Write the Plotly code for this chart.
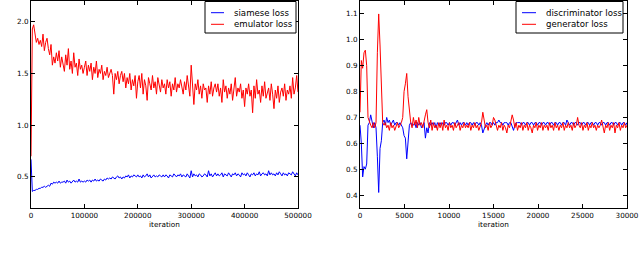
import plotly.graph_objects as go

# ---------------- left panel data (iteration step 2500) ----------------
emulator_loss = [
    0.70, 1.93, 1.97, 1.86, 1.80, 1.84, 1.78, 1.82, 1.76, 1.88, 1.72, 1.80, 1.84, 1.74, 1.68, 1.78, 1.58, 1.66, 1.60, 1.70,
    1.62, 1.72, 1.56, 1.66, 1.60, 1.52, 1.68, 1.58, 1.74, 1.54, 1.62, 1.50, 1.70, 1.56, 1.60, 1.48, 1.64, 1.54, 1.58, 1.50,
    1.56, 1.62, 1.48, 1.58, 1.52, 1.60, 1.44, 1.56, 1.50, 1.62, 1.46, 1.54, 1.50, 1.58, 1.44, 1.52, 1.48, 1.56, 1.46, 1.50,
    1.54, 1.48, 1.30, 1.50, 1.44, 1.52, 1.40, 1.48, 1.52, 1.42, 1.50, 1.36, 1.46, 1.40, 1.50, 1.34, 1.44, 1.38, 1.48, 1.26,
    1.42, 1.48, 1.36, 1.50, 1.30, 1.44, 1.38, 1.24, 1.46, 1.40, 1.34, 1.48, 1.36, 1.42, 1.30, 1.46, 1.38, 1.32, 1.44, 1.36,
    1.40, 1.30, 1.44, 1.36, 1.42, 1.28, 1.40, 1.34, 1.46, 1.32, 1.40, 1.36, 1.44, 1.38, 1.30, 1.42, 1.34, 1.48, 1.36, 1.28,
    1.58, 1.32, 1.20, 1.40, 1.34, 1.44, 1.30, 1.38, 1.26, 1.40, 1.34, 1.36, 1.22, 1.38, 1.30, 1.42, 1.28, 1.36, 1.40, 1.32,
    1.40, 1.28, 1.36, 1.22, 1.44, 1.32, 1.38, 1.26, 1.36, 1.30, 1.40, 1.24, 1.34, 1.46, 1.28, 1.36, 1.32, 1.40, 1.26, 1.34,
    1.18, 1.36, 1.30, 1.40, 1.28, 1.34, 1.12, 1.38, 1.26, 1.44, 1.30, 1.34, 1.22, 1.38, 1.28, 1.42, 1.26, 1.32, 1.36, 1.24,
    1.40, 1.30, 1.16, 1.34, 1.26, 1.38, 1.22, 1.32, 1.36, 1.28, 1.40, 1.24, 1.34, 1.30, 1.38, 1.26, 1.46, 1.30, 1.36, 1.48,
    1.32,
]
siamese_loss = [
    0.67, 0.36, 0.37, 0.37, 0.38, 0.38, 0.39, 0.39, 0.40, 0.40, 0.41, 0.40, 0.41, 0.42, 0.41, 0.44, 0.43, 0.45, 0.44, 0.45,
    0.44, 0.46, 0.44, 0.45, 0.45, 0.46, 0.44, 0.47, 0.45, 0.46, 0.44, 0.46, 0.47, 0.45, 0.46, 0.45, 0.48, 0.45, 0.46, 0.45,
    0.46, 0.45, 0.47, 0.46, 0.47, 0.45, 0.47, 0.46, 0.48, 0.46, 0.47, 0.46, 0.48, 0.47, 0.46, 0.48, 0.47, 0.49, 0.48, 0.49,
    0.48, 0.50, 0.49, 0.48, 0.50, 0.51, 0.49, 0.50, 0.48, 0.50, 0.49, 0.51, 0.50, 0.52, 0.49, 0.51, 0.50, 0.52, 0.51, 0.50,
    0.52, 0.50, 0.51, 0.49, 0.52, 0.50, 0.51, 0.53, 0.50, 0.52, 0.49, 0.51, 0.52, 0.50, 0.51, 0.50, 0.52, 0.51, 0.50, 0.52,
    0.50, 0.52, 0.51, 0.49, 0.52, 0.51, 0.50, 0.53, 0.51, 0.50, 0.52, 0.51, 0.53, 0.50, 0.52, 0.51, 0.50, 0.53, 0.51, 0.49,
    0.56, 0.50, 0.53, 0.51, 0.52, 0.50, 0.53, 0.52, 0.50, 0.51, 0.53, 0.52, 0.50, 0.56, 0.51, 0.53, 0.50, 0.52, 0.54, 0.51,
    0.53, 0.51, 0.52, 0.54, 0.50, 0.53, 0.52, 0.51, 0.54, 0.52, 0.50, 0.53, 0.52, 0.54, 0.51, 0.53, 0.52, 0.50, 0.54, 0.52,
    0.53, 0.51, 0.54, 0.52, 0.50, 0.53, 0.52, 0.54, 0.51, 0.53, 0.52, 0.55, 0.51, 0.53, 0.54, 0.52, 0.53, 0.51, 0.56, 0.52,
    0.54, 0.52, 0.53, 0.51, 0.54, 0.52, 0.55, 0.53, 0.51, 0.54, 0.52, 0.53, 0.51, 0.54, 0.53, 0.52, 0.55, 0.53, 0.51, 0.54,
    0.52,
]
left_step = 2500
left_iter = [i * left_step for i in range(len(emulator_loss))]

# ---------------- right panel data (iteration step 150) ----------------
discriminator_loss = [
    0.67, 0.60, 0.47, 0.51, 0.50, 0.52, 0.67, 0.68, 0.71, 0.68, 0.66, 0.68, 0.66, 0.55, 0.41, 0.58, 0.61, 0.68, 0.69, 0.67,
    0.70, 0.68, 0.69, 0.67, 0.68, 0.69, 0.67, 0.68, 0.68, 0.67, 0.68, 0.67, 0.66, 0.63, 0.62, 0.54, 0.63, 0.67, 0.68, 0.67,
    0.67, 0.68, 0.66, 0.68, 0.67, 0.68, 0.66, 0.67, 0.68, 0.62, 0.66, 0.64, 0.68, 0.67, 0.68, 0.67, 0.68, 0.66, 0.68, 0.67,
    0.68, 0.67, 0.68, 0.67, 0.68, 0.68, 0.67, 0.68, 0.67, 0.68, 0.68, 0.67, 0.68, 0.69, 0.67, 0.68, 0.67, 0.68, 0.68, 0.67,
    0.68, 0.67, 0.68, 0.68, 0.67, 0.68, 0.67, 0.68, 0.68, 0.67, 0.68, 0.67, 0.64, 0.66, 0.67, 0.68, 0.67, 0.68, 0.68, 0.67,
    0.68, 0.67, 0.68, 0.68, 0.69, 0.68, 0.68, 0.67, 0.68, 0.68, 0.68, 0.67, 0.68, 0.68, 0.66, 0.65, 0.67, 0.68, 0.68, 0.68,
    0.68, 0.67, 0.68, 0.68, 0.67, 0.68, 0.68, 0.67, 0.68, 0.68, 0.67, 0.68, 0.68, 0.67, 0.68, 0.68, 0.67, 0.68, 0.68, 0.67,
    0.68, 0.68, 0.67, 0.68, 0.68, 0.67, 0.68, 0.68, 0.67, 0.68, 0.68, 0.67, 0.68, 0.68, 0.67, 0.69, 0.68, 0.67, 0.68, 0.68,
    0.67, 0.68, 0.68, 0.67, 0.68, 0.68, 0.67, 0.68, 0.68, 0.67, 0.68, 0.68, 0.67, 0.68, 0.68, 0.67, 0.68, 0.68, 0.67, 0.68,
    0.68, 0.67, 0.68, 0.68, 0.67, 0.68, 0.68, 0.67, 0.68, 0.68, 0.67, 0.68, 0.68, 0.67, 0.68, 0.68, 0.67, 0.68, 0.68, 0.67,
    0.68,
]
generator_loss = [
    0.72, 0.92, 0.89, 0.95, 0.96, 0.90, 0.70, 0.68, 0.67, 0.66, 0.68, 0.66, 0.68, 0.95, 1.10, 0.98, 0.85, 0.68, 0.67, 0.68,
    0.66, 0.67, 0.65, 0.68, 0.66, 0.67, 0.65, 0.67, 0.68, 0.66, 0.67, 0.68, 0.70, 0.80, 0.83, 0.87, 0.78, 0.72, 0.68, 0.66,
    0.70, 0.67, 0.69, 0.66, 0.70, 0.67, 0.68, 0.66, 0.69, 0.71, 0.73, 0.68, 0.66, 0.69, 0.65, 0.68, 0.66, 0.67, 0.65, 0.68,
    0.66, 0.68, 0.65, 0.69, 0.66, 0.67, 0.65, 0.68, 0.66, 0.67, 0.65, 0.68, 0.66, 0.67, 0.68, 0.65, 0.67, 0.66, 0.68, 0.66,
    0.67, 0.66, 0.68, 0.65, 0.67, 0.66, 0.68, 0.66, 0.67, 0.65, 0.67, 0.68, 0.72, 0.69, 0.66, 0.67, 0.65, 0.68, 0.66, 0.67,
    0.70, 0.69, 0.67, 0.65, 0.67, 0.66, 0.68, 0.65, 0.67, 0.66, 0.64, 0.67, 0.66, 0.68, 0.71, 0.69, 0.66, 0.68, 0.65, 0.67,
    0.66, 0.68, 0.65, 0.67, 0.66, 0.68, 0.65, 0.67, 0.66, 0.64, 0.67, 0.66, 0.68, 0.65, 0.67, 0.66, 0.68, 0.65, 0.67, 0.66,
    0.67, 0.65, 0.68, 0.66, 0.67, 0.65, 0.68, 0.66, 0.67, 0.65, 0.67, 0.66, 0.68, 0.65, 0.67, 0.66, 0.68, 0.66, 0.67, 0.65,
    0.68, 0.66, 0.67, 0.70, 0.67, 0.66, 0.68, 0.65, 0.67, 0.66, 0.68, 0.65, 0.67, 0.66, 0.68, 0.66, 0.67, 0.65, 0.67, 0.66,
    0.67, 0.69, 0.66, 0.64, 0.67, 0.66, 0.68, 0.65, 0.67, 0.66, 0.68, 0.64, 0.67, 0.66, 0.68, 0.65, 0.67, 0.66, 0.68, 0.66,
    0.67,
]
right_step = 150
right_iter = [i * right_step for i in range(len(generator_loss))]

left_xticks = [0, 100000, 200000, 300000, 400000, 500000]
left_yticks = [0.5, 1.0, 1.5, 2.0]
right_xticks = [0, 5000, 10000, 15000, 20000, 25000, 30000]
right_yticks = [0.4, 0.5, 0.6, 0.7, 0.8, 0.9, 1.0, 1.1]

left_names = ["siamese loss", "emulator loss"]
right_names = ["discriminator loss", "generator loss"]
BLUE, RED = "#0000ff", "#ff0000"

FONT = "DejaVu Sans"
W, H = 640, 259
T, B = 1, 51
PLOT_H = H - T - B


def xp(px):
    return px / W


def yp(py):
    return (H - B - py) / PLOT_H


fig = go.Figure()
fig.add_trace(go.Scatter(x=left_iter, y=siamese_loss, mode="lines", name=left_names[0],
                         line=dict(color=BLUE, width=1), xaxis="x", yaxis="y"))
fig.add_trace(go.Scatter(x=left_iter, y=emulator_loss, mode="lines", name=left_names[1],
                         line=dict(color=RED, width=1), xaxis="x", yaxis="y"))
fig.add_trace(go.Scatter(x=right_iter, y=discriminator_loss, mode="lines", name=right_names[0],
                         line=dict(color=BLUE, width=1), xaxis="x2", yaxis="y2"))
fig.add_trace(go.Scatter(x=right_iter, y=generator_loss, mode="lines", name=right_names[1],
                         line=dict(color=RED, width=1), xaxis="x2", yaxis="y2"))

axis_common = dict(showline=True, linecolor="black", linewidth=1, mirror="ticks", ticks="inside",
                   ticklen=4, tickcolor="black", showgrid=False, zeroline=False, automargin=False,
                   tickfont=dict(family=FONT, size=7.2, color="black"))

# matplotlib-style legend boxes (box, short line samples, labels)
shapes, annotations = [], []
legend_specs = [
    # box (x0, x1, y0, y1), sample (x0, x1), text x, names
    ((205, 296, 1.5, 33), (211, 224), 232, left_names),
    ((516, 623, 1.5, 33), (522, 536), 544, right_names),
]
rows_y = [12.7, 24.3]
for (bx0, bx1, by0, by1), (sx0, sx1), tx, names in legend_specs:
    shapes.append(dict(type="rect", xref="paper", yref="paper", x0=xp(bx0), x1=xp(bx1),
                       y0=yp(by1), y1=yp(by0), line=dict(color="black", width=1),
                       fillcolor="white", layer="above"))
    for name, color, ry in zip(names, [BLUE, RED], rows_y):
        shapes.append(dict(type="line", xref="paper", yref="paper", x0=xp(sx0), x1=xp(sx1),
                           y0=yp(ry), y1=yp(ry), line=dict(color=color, width=1), layer="above"))
        annotations.append(dict(text=name, xref="paper", yref="paper", x=xp(tx), y=yp(ry),
                                xanchor="left", yanchor="middle", showarrow=False,
                                font=dict(family=FONT, size=8.6, color="black")))

fig.update_layout(
    width=W, height=H,
    margin=dict(l=0, r=0, t=T, b=B, pad=0, autoexpand=False),
    paper_bgcolor="white", plot_bgcolor="white",
    showlegend=False,
    font=dict(family=FONT, size=7.2, color="black"),
    xaxis=dict(domain=[xp(31), xp(298)], range=[0, 500000], tickvals=left_xticks,
               tickformat="d", anchor="y",
               title=dict(text="iteration", standoff=2, font=dict(family=FONT, size=7.3)), **axis_common),
    yaxis=dict(domain=[0, 1], range=[0.2, 2.2], tickvals=left_yticks, tickformat=".1f",
               anchor="x", **axis_common),
    xaxis2=dict(domain=[xp(360), xp(627)], range=[0, 30000], tickvals=right_xticks,
                tickformat="d", anchor="y2",
                title=dict(text="iteration", standoff=2, font=dict(family=FONT, size=7.3)), **axis_common),
    yaxis2=dict(domain=[0, 1], range=[0.35, 1.15], tickvals=right_yticks, tickformat=".1f",
                anchor="x2", **axis_common),
    shapes=shapes,
    annotations=annotations,
)

fig.write_html("out.html", config={"displayModeBar": False},
               post_script="document.body.style.margin='0';")
